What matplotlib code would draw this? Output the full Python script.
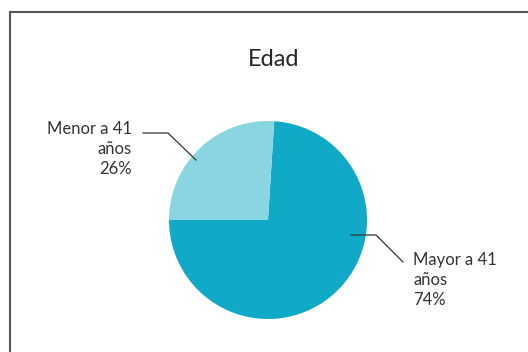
import matplotlib
matplotlib.use("Agg")
import matplotlib.pyplot as plt
from matplotlib.patches import Rectangle
from matplotlib.lines import Line2D

title = "Edad"
categories = ["Mayor a 41\naños", "Menor a 41\naños"]
values = [74, 26]
colors = ["#10A9C7", "#8AD5E2"]

W, H = 528, 352
fig = plt.figure(figsize=(W / 100, H / 100), dpi=100)
plt.rcParams['font.family'] = ['Lato', 'DejaVu Sans']

def fx(x):
    return x / W

def fy(y):
    return 1 - y / H

# border
fig.add_artist(Rectangle((fx(10), fy(400)), fx(600), fy(11.5) - fy(400),
                         transform=fig.transFigure, fill=False,
                         edgecolor="#555555", linewidth=1.5))

cx, cy, r = 268, 220, 99
ax = fig.add_axes([fx(cx - r), fy(cy + r), 2 * r / W, 2 * r / H])
ax.pie(values, colors=colors, startangle=180, counterclock=True,
       wedgeprops=dict(linewidth=0))
ax.set_xlim(-1, 1)
ax.set_ylim(-1, 1)
ax.set_aspect('equal')
ax.axis('off')

fig.text(fx(274), fy(60), title, ha='center', va='center',
         fontsize=17, color="#262626")

labels = [f"{c}\n{v}%" for c, v in zip(categories, values)]
tc = "#333333"
# Mayor label
fig.text(fx(413), fy(280), labels[0], ha='left', va='center',
         fontsize=12, color=tc, linespacing=1.3, multialignment='left')
fig.add_artist(Line2D([fx(351), fx(376), fx(403)], [fy(235), fy(235), fy(262)],
                      transform=fig.transFigure, color="#333333", linewidth=0.9))
# Menor label
fig.text(fx(132), fy(149), labels[1], ha='right', va='center',
         fontsize=12, color=tc, linespacing=1.3, multialignment='right')
fig.add_artist(Line2D([fx(143), fx(168), fx(196)], [fy(133), fy(133), fy(160)],
                      transform=fig.transFigure, color="#333333", linewidth=0.9))

fig.savefig("out.png", dpi=100, facecolor="white")
